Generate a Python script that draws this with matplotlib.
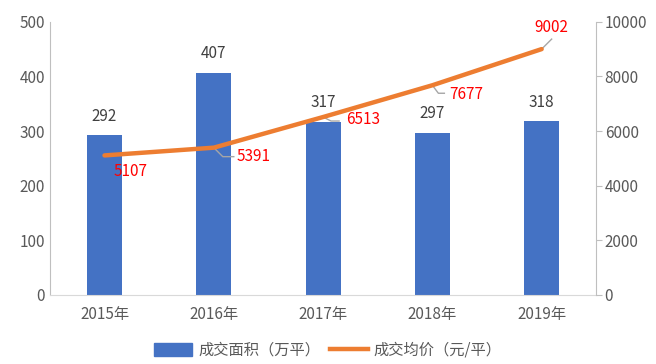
import numpy as np
import matplotlib.pyplot as plt
from matplotlib.lines import Line2D
from matplotlib.patches import Patch

plt.rcParams['font.family'] = ['Noto Sans CJK SC', 'DejaVu Sans']

years = ['2015年', '2016年', '2017年', '2018年', '2019年']
area = [292, 407, 317, 297, 318]
price = [5107, 5391, 6513, 7677, 9002]
# label offsets in pixels (text centre relative to point)
price_offsets = [(26, -16), (40, -9), (40, -2), (34, -9), (10, 22)]

gray = '#595959'
fs = 11
x = np.arange(len(years))

fig = plt.figure(figsize=(6.56, 3.64), dpi=100)
ax = fig.add_axes([0.076, 0.19, 0.833, 0.75])
ax.bar(x, area, width=0.32, color='#4472C4', zorder=2)
ax.set_xlim(-0.5, 4.5)
ax.set_ylim(0, 500)
ax.set_yticks(range(0, 501, 100))
ax.set_xticks(x)
ax.set_xticklabels(years)
for s in ['top', 'right']:
    ax.spines[s].set_visible(False)
ax.spines['left'].set_color('#BFBFBF')
ax.spines['bottom'].set_color('#D9D9D9')
ax.tick_params(axis='both', length=0, colors=gray, labelsize=fs)
ax.tick_params(axis='x', pad=8)
for xi, v in zip(x, area):
    ax.annotate(str(v), (xi, v), xytext=(0, 19), textcoords='offset pixels',
                ha='center', va='center', color='#404040', fontsize=fs)

ax2 = ax.twinx()
ax2.plot(x, price, color='#ED7D31', lw=3.2, solid_capstyle='round', zorder=3)
ax2.set_ylim(0, 10000)
ax2.set_yticks(range(0, 10001, 2000))
for s in ['top', 'left', 'bottom']:
    ax2.spines[s].set_visible(False)
ax2.spines['right'].set_color('#BFBFBF')
ax2.tick_params(axis='y', length=4, color='#BFBFBF', labelcolor=gray, labelsize=fs, pad=2)

for xi, v, (dx, dy) in zip(x, price, price_offsets):
    ax2.annotate(str(v), (xi, v), xytext=(dx, dy), textcoords='offset pixels',
                 ha='center', va='center', color='#FF0000', fontsize=fs)

# leader lines
leaders = [(1, [(0, 0), (9, -9), (20, -9)]),
           (2, [(0, 0), (8, -4), (16, -4)]),
           (3, [(0, 0), (6, -8), (12, -8)]),
           (4, [(0, 0), (10, 10)])]
inv = ax2.transData.inverted()
for i, pts in leaders:
    px, py = ax2.transData.transform((x[i], price[i]))
    xs = [px + p[0] for p in pts]
    ys = [py + p[1] for p in pts]
    d = inv.transform(np.column_stack([xs, ys]))
    ax2.plot(d[:, 0], d[:, 1], color='#A6A6A6', lw=1, zorder=2)

handles = [Patch(color='#4472C4', label='成交面积（万平）'),
           Line2D([], [], color='#ED7D31', lw=3.2, label='成交均价（元/平）')]
fig.legend(handles=handles, loc='center', bbox_to_anchor=(0.5, 0.038), ncol=2,
           frameon=False, fontsize=fs, labelcolor=gray, handlelength=2.5,
           handleheight=0.9, columnspacing=0.6, handletextpad=0.4)

fig.savefig('out.png', dpi=100)
